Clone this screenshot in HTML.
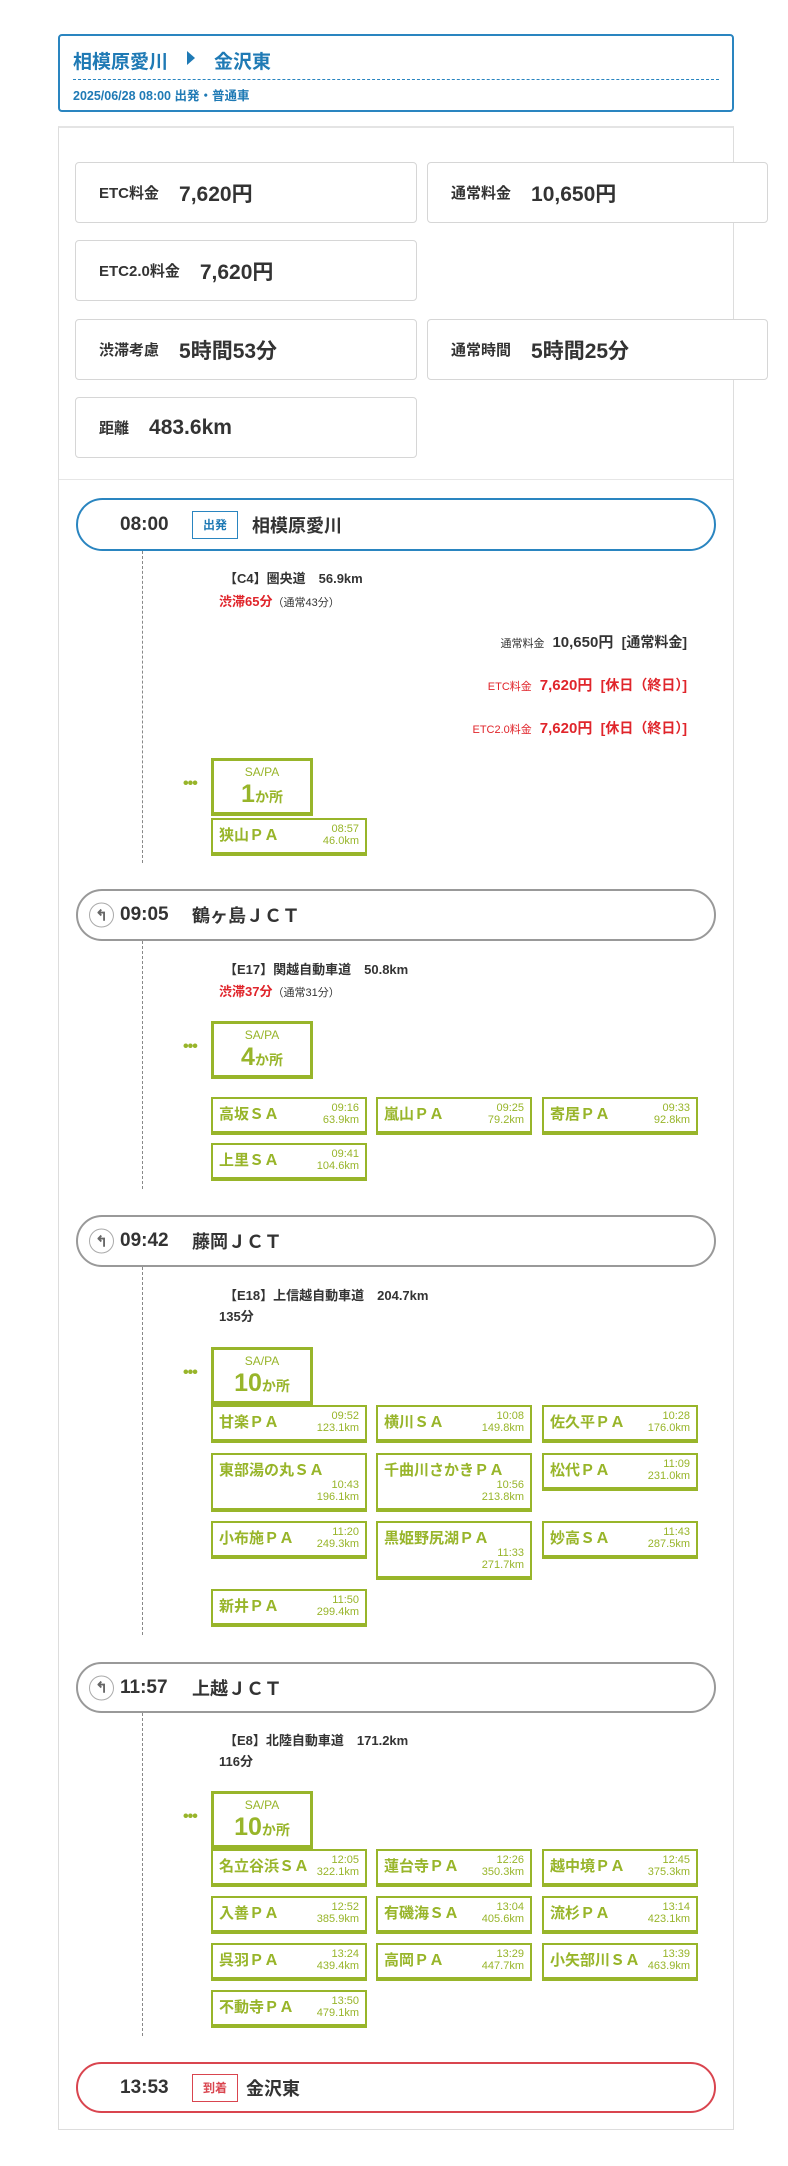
<!DOCTYPE html>
<html><head><meta charset="utf-8">
<style>
*{margin:0;padding:0;box-sizing:border-box}
body{width:788px;height:2166px;background:#fff;position:relative;font-family:"Liberation Sans","Noto Sans CJK JP",sans-serif;color:#333;overflow:hidden}
.a{position:absolute}
.box{position:absolute;border:1px solid #d6d6d6;border-radius:4px;background:#fff;display:flex;align-items:center;padding-left:23px;white-space:nowrap}
.box .l{font-size:15px;font-weight:bold;color:#333;margin-right:20px}
.box .v{font-size:21px;font-weight:bold;color:#333}
.pill{position:absolute;left:76px;width:640px;border:2px solid #999;border-radius:27px;background:#fff}
.pill .t{position:absolute;left:42px;top:50%;transform:translateY(-50%);font-size:19px;font-weight:bold;color:#333;white-space:nowrap}
.pill .n{position:absolute;top:50%;transform:translateY(-50%);font-size:18px;font-weight:bold;color:#333;white-space:nowrap}
.tag{position:absolute;top:50%;transform:translateY(-50%);left:114px;width:46px;height:28px;border:1.5px solid;font-size:12px;font-weight:bold;display:flex;align-items:center;justify-content:center}
.ic{position:absolute;left:11px;top:50%;transform:translateY(-50%);width:25px;height:25px;border:1.5px solid #aaa;border-radius:50%;display:flex;align-items:center;justify-content:center;font-size:15px;font-weight:bold;color:#666}
.dash{position:absolute;left:142px;width:0;border-left:1.5px dashed #888}
.rt{position:absolute;left:219px;font-size:13px;font-weight:bold;color:#333;white-space:nowrap;line-height:18px}
.red{color:#e0252b}
.sm{font-size:11px;font-weight:normal}
.sa{position:absolute;left:211px;width:102px;height:58px;border:3px solid #98b52a;border-bottom-width:4px;text-align:center;color:#98b52a;background:#fff}
.sa .s{font-size:12px;margin-top:4px;line-height:14px}
.sa .b{font-size:25px;font-weight:bold;line-height:30px}
.sa .b span{font-size:14px}
.dots{position:absolute;left:183px;font-size:16px;font-weight:bold;color:#98b52a;line-height:10px;letter-spacing:-1px}
.f{position:absolute;width:156px;height:38px;border:2px solid #98b52a;border-bottom-width:4px;color:#98b52a;background:#fff}
.f.tall{height:59px}
.f .nm{position:absolute;left:6px;top:6px;font-size:15px;font-weight:bold;white-space:nowrap;line-height:20px}
.f .tm{position:absolute;right:6px;top:3px;font-size:11px;line-height:12px;text-align:right;white-space:nowrap}
.f.tall .tm{top:24px}
.fee{position:absolute;right:101px;font-size:15px;font-weight:bold;white-space:nowrap;line-height:20px}
.fee .sm{font-size:11px;margin-right:8px}
</style></head><body>

<!-- header -->
<div class="a" style="left:58px;top:34px;width:676px;height:78px;border:2px solid #2a85c0;border-radius:4px"></div>
<div class="a" style="left:73px;top:47px;font-size:19px;font-weight:bold;color:#1f7ab5;white-space:nowrap">相模原愛川</div>
<div class="a" style="left:187px;top:51px;width:0;height:0;border-top:7px solid transparent;border-bottom:7px solid transparent;border-left:8px solid #1f7ab5"></div>
<div class="a" style="left:214px;top:47px;font-size:19px;font-weight:bold;color:#1f7ab5;white-space:nowrap">金沢東</div>
<div class="a" style="left:73px;top:79px;width:646px;border-top:1px dashed #2a85c0"></div>
<div class="a" style="left:73px;top:85px;font-size:12.5px;font-weight:bold;color:#1f7ab5;white-space:nowrap">2025/06/28 08:00 出発・普通車</div>

<!-- panel -->
<div class="a" style="left:58px;top:126px;width:676px;height:2004px;border:1px solid #ddd;border-top:2px solid #e4e4e4"></div>
<div class="a" style="left:59px;top:479px;width:674px;border-top:1px solid #e6e6e6"></div>

<div class="box" style="left:75px;top:162px;width:342px;height:61px"><span class="l">ETC料金</span><span class="v">7,620円</span></div>
<div class="box" style="left:427px;top:162px;width:341px;height:61px"><span class="l">通常料金</span><span class="v">10,650円</span></div>
<div class="box" style="left:75px;top:240px;width:342px;height:61px"><span class="l">ETC2.0料金</span><span class="v">7,620円</span></div>
<div class="box" style="left:75px;top:319px;width:342px;height:61px"><span class="l">渋滞考慮</span><span class="v">5時間53分</span></div>
<div class="box" style="left:427px;top:319px;width:341px;height:61px"><span class="l">通常時間</span><span class="v">5時間25分</span></div>
<div class="box" style="left:75px;top:397px;width:342px;height:61px"><span class="l">距離</span><span class="v">483.6km</span></div>

<!-- departure -->
<div class="pill" style="top:498px;height:53px;border-color:#2a85c0">
 <div class="t">08:00</div>
 <div class="tag" style="color:#1f7ab5;border-color:#2a85c0">出発</div>
 <div class="n" style="left:174px">相模原愛川</div>
</div>
<div class="dash" style="top:551px;height:312px"></div>
<div class="rt" style="top:570px;left:224px">【C4】圏央道　56.9km</div>
<div class="rt" style="top:593px"><span class="red">渋滞65分</span><span class="sm">（通常43分）</span></div>
<div class="fee" style="top:632px"><span class="sm">通常料金</span>10,650円&nbsp; <span style="font-size:14px">[通常料金]</span></div>
<div class="fee red" style="top:675px"><span class="sm">ETC料金</span>7,620円&nbsp; <span style="font-size:14px">[休日（終日）]</span></div>
<div class="fee red" style="top:718px"><span class="sm">ETC2.0料金</span>7,620円&nbsp; <span style="font-size:14px">[休日（終日）]</span></div>
<div class="dots" style="top:779px">•••</div>
<div class="sa" style="top:758px"><div class="s">SA/PA</div><div class="b">1<span>か所</span></div></div>
<div class="f" style="left:211px;top:818px"><div class="nm">狭山ＰＡ</div><div class="tm">08:57<br>46.0km</div></div>

<!-- 鶴ヶ島 -->
<div class="pill" style="top:889px;height:52px">
 <div class="ic">↰</div><div class="t">09:05</div><div class="n" style="left:114px">鶴ヶ島ＪＣＴ</div>
</div>
<div class="dash" style="top:941px;height:248px"></div>
<div class="rt" style="top:961px;left:224px">【E17】関越自動車道　50.8km</div>
<div class="rt" style="top:983px"><span class="red">渋滞37分</span><span class="sm">（通常31分）</span></div>
<div class="dots" style="top:1042px">•••</div>
<div class="sa" style="top:1021px"><div class="s">SA/PA</div><div class="b">4<span>か所</span></div></div>
<div class="f" style="left:211px;top:1097px"><div class="nm">高坂ＳＡ</div><div class="tm">09:16<br>63.9km</div></div>
<div class="f" style="left:376px;top:1097px"><div class="nm">嵐山ＰＡ</div><div class="tm">09:25<br>79.2km</div></div>
<div class="f" style="left:542px;top:1097px"><div class="nm">寄居ＰＡ</div><div class="tm">09:33<br>92.8km</div></div>
<div class="f" style="left:211px;top:1143px"><div class="nm">上里ＳＡ</div><div class="tm">09:41<br>104.6km</div></div>

<!-- 藤岡 -->
<div class="pill" style="top:1215px;height:52px">
 <div class="ic">↰</div><div class="t">09:42</div><div class="n" style="left:114px">藤岡ＪＣＴ</div>
</div>
<div class="dash" style="top:1267px;height:368px"></div>
<div class="rt" style="top:1287px;left:224px">【E18】上信越自動車道　204.7km</div>
<div class="rt" style="top:1308px">135分</div>
<div class="dots" style="top:1368px">•••</div>
<div class="sa" style="top:1347px"><div class="s">SA/PA</div><div class="b">10<span>か所</span></div></div>
<div class="f" style="left:211px;top:1405px"><div class="nm">甘楽ＰＡ</div><div class="tm">09:52<br>123.1km</div></div>
<div class="f" style="left:376px;top:1405px"><div class="nm">横川ＳＡ</div><div class="tm">10:08<br>149.8km</div></div>
<div class="f" style="left:542px;top:1405px"><div class="nm">佐久平ＰＡ</div><div class="tm">10:28<br>176.0km</div></div>
<div class="f tall" style="left:211px;top:1453px"><div class="nm">東部湯の丸ＳＡ</div><div class="tm">10:43<br>196.1km</div></div>
<div class="f tall" style="left:376px;top:1453px"><div class="nm">千曲川さかきＰＡ</div><div class="tm">10:56<br>213.8km</div></div>
<div class="f" style="left:542px;top:1453px"><div class="nm">松代ＰＡ</div><div class="tm">11:09<br>231.0km</div></div>
<div class="f" style="left:211px;top:1521px"><div class="nm">小布施ＰＡ</div><div class="tm">11:20<br>249.3km</div></div>
<div class="f tall" style="left:376px;top:1521px"><div class="nm">黒姫野尻湖ＰＡ</div><div class="tm">11:33<br>271.7km</div></div>
<div class="f" style="left:542px;top:1521px"><div class="nm">妙高ＳＡ</div><div class="tm">11:43<br>287.5km</div></div>
<div class="f" style="left:211px;top:1589px"><div class="nm">新井ＰＡ</div><div class="tm">11:50<br>299.4km</div></div>

<!-- 上越 -->
<div class="pill" style="top:1662px;height:51px">
 <div class="ic">↰</div><div class="t">11:57</div><div class="n" style="left:114px">上越ＪＣＴ</div>
</div>
<div class="dash" style="top:1713px;height:323px"></div>
<div class="rt" style="top:1732px;left:224px">【E8】北陸自動車道　171.2km</div>
<div class="rt" style="top:1753px">116分</div>
<div class="dots" style="top:1812px">•••</div>
<div class="sa" style="top:1791px"><div class="s">SA/PA</div><div class="b">10<span>か所</span></div></div>
<div class="f" style="left:211px;top:1849px"><div class="nm">名立谷浜ＳＡ</div><div class="tm">12:05<br>322.1km</div></div>
<div class="f" style="left:376px;top:1849px"><div class="nm">蓮台寺ＰＡ</div><div class="tm">12:26<br>350.3km</div></div>
<div class="f" style="left:542px;top:1849px"><div class="nm">越中境ＰＡ</div><div class="tm">12:45<br>375.3km</div></div>
<div class="f" style="left:211px;top:1896px"><div class="nm">入善ＰＡ</div><div class="tm">12:52<br>385.9km</div></div>
<div class="f" style="left:376px;top:1896px"><div class="nm">有磯海ＳＡ</div><div class="tm">13:04<br>405.6km</div></div>
<div class="f" style="left:542px;top:1896px"><div class="nm">流杉ＰＡ</div><div class="tm">13:14<br>423.1km</div></div>
<div class="f" style="left:211px;top:1943px"><div class="nm">呉羽ＰＡ</div><div class="tm">13:24<br>439.4km</div></div>
<div class="f" style="left:376px;top:1943px"><div class="nm">高岡ＰＡ</div><div class="tm">13:29<br>447.7km</div></div>
<div class="f" style="left:542px;top:1943px"><div class="nm">小矢部川ＳＡ</div><div class="tm">13:39<br>463.9km</div></div>
<div class="f" style="left:211px;top:1990px"><div class="nm">不動寺ＰＡ</div><div class="tm">13:50<br>479.1km</div></div>

<!-- arrival -->
<div class="pill" style="top:2062px;height:51px;border-color:#d9454f">
 <div class="t">13:53</div>
 <div class="tag" style="color:#d9454f;border-color:#d9454f">到着</div>
 <div class="n" style="left:168px">金沢東</div>
</div>

</body></html>
